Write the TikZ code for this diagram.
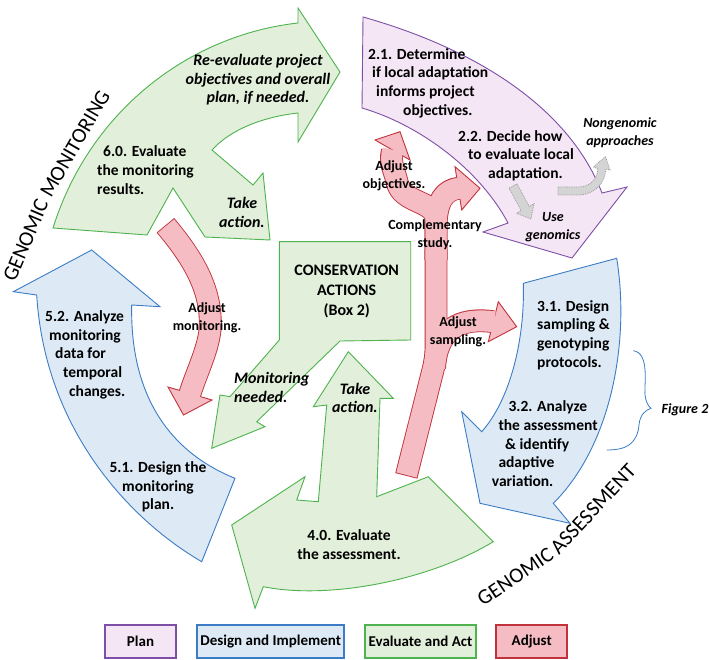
\documentclass[tikz,border=0pt]{standalone}
\usepackage{fontspec}
\setmainfont{Carlito}
\definecolor{purD}{HTML}{7E4FA6}
\definecolor{purL}{HTML}{F4E6F4}
\definecolor{bluD}{HTML}{3B7CC4}
\definecolor{bluL}{HTML}{DDEAF6}
\definecolor{grnD}{HTML}{4EB24E}
\definecolor{grnL}{HTML}{E2EFDA}
\definecolor{redD}{HTML}{C0323C}
\definecolor{redL}{HTML}{F5BDC3}
\definecolor{gryD}{HTML}{9A9A9A}
\definecolor{gryL}{HTML}{D4D4D4}
\begin{document}
\begin{tikzpicture}[x=1pt,y=-1pt,
  shp/.style={line width=0.9pt, line join=miter, miter limit=20},
  purS/.style={shp, draw=purD, fill=purL},
  bluS/.style={shp, draw=bluD, fill=bluL},
  grnS/.style={shp, draw=grnD, fill=grnL},
  redS/.style={shp, draw=redD, fill=redL},
  gryS/.style={line width=0.8pt, draw=gryD, fill=gryL, densely dotted},
  redO/.style={draw=redD, line width=22.8pt, line join=round},
  redF/.style={draw=redL, line width=21pt, line join=round},
  txt/.style={inner sep=0pt, font=\fontsize{15.5}{18.7}\selectfont\bfseries},
  itx/.style={inner sep=0pt, font=\fontsize{16}{18.5}\selectfont\bfseries\itshape},
  stx/.style={inner sep=0pt, font=\fontsize{14}{17.7}\selectfont\bfseries},
  sitx/.style={inner sep=0pt, font=\fontsize{14}{17.8}\selectfont\bfseries\itshape},
  ttl/.style={inner sep=0pt, anchor=base west, font=\fontsize{21.3}{22}\selectfont},
  leg/.style={line width=2pt, minimum height=33.3pt, inner sep=0pt, font=\fontsize{15}{18}\selectfont\bfseries}
]
\useasboundingbox (0,0) rectangle (709,660);

% purple 2.x
\path[purS] (363,17) -- (362,108) .. controls (420,125) and (480,170) .. (508,223) -- (483,232) -- (572,258) -- (627,187) -- (602,193) .. controls (570,110) and (480,50) .. (363,17) -- cycle;
% green 6.0
\path[grnS] (53,228) .. controls (90,110) and (190,35) .. (298,23) -- (298,8) -- (340,72) -- (298,142) -- (298,113) .. controls (262,117) and (230,130) .. (212,150) -- (253,185) -- (263,173) -- (270,240) -- (205,237) -- (173,188) -- (147,235) -- cycle;
% blue left 5.x
\path[bluS] (36.7,295) -- (13.3,291.7) -- (91.7,250) -- (160,306.7) -- (131.7,305) .. controls (130,390) and (165,450) .. (235,478.3) -- (201.7,561.7) .. controls (130,520) and (45,430) .. (36.7,295) -- cycle;
% conservation box + monitoring needed
\path[grnS] (279.3,241.7) -- (410.7,241.7) -- (410.7,340) -- (340,341) -- (256.7,421.7) -- (265,426.7) -- (211.7,448.3) -- (220,395) -- (230,396.7) -- (279.3,340) -- cycle;
% green 4.0
\path[grnS] (326.7,405) -- (313.3,406.7) -- (348.3,351.7) -- (393.3,398.3) -- (380,398.3) -- (376.7,496.7) -- (428.3,476.7) -- (493.3,541.7) .. controls (430,580) and (330,600) .. (263.3,586.7) -- (255,608.3) -- (231.7,525) -- (305,476.7) -- (296.7,500) -- (318.3,501.7) -- cycle;
% blue right 3.x
\path[bluS] (523.3,283.3) -- (616.7,258.3) .. controls (630,340) and (612,445) .. (553.3,503.3) -- (570,523.3) -- (480,503.3) -- (461.7,411.7) -- (481.7,431.7) .. controls (510,400) and (525,340) .. (523.3,283.3) -- cycle;
% gray arrows
\path[gryS] (516.95,183.84) -- (529.2,206.3) -- (534,203.7) -- (531,219) -- (516.5,213.3) -- (521.3,210.7) -- (509.05,188.2) -- cycle;
\path[gryS] (558,187) -- (578,187) .. controls (589,187) and (597.7,180) .. (597.7,168.5) -- (593.3,167) -- (605.5,156.5) -- (610,170) -- (605.7,169) .. controls (605.7,182) and (595,195) .. (578,195) -- (558,195) -- cycle;

% red adjust monitoring
\draw[redO, shorten <=-0.9pt] (166,226) .. controls (192,257) and (213,290) .. (210,330) .. controls (208,350) and (196,374) .. (190,393.5);
\path[redS] (168,387) -- (183.5,415) -- (212,400) -- cycle;
\draw[redF, shorten >=-1.2pt] (166,226) .. controls (192,257) and (213,290) .. (210,330) .. controls (208,350) and (196,374) .. (190,393.5);

% red fork
\draw[redO, shorten <=-0.9pt] (406.5,475) -- (433,370) .. controls (437,354) and (436,345) .. (436,330) -- (436,250);
\draw[redO] (436,260) -- (436,220) .. controls (436,200) and (402,204) .. (397,182) .. controls (395,172) and (389,162) .. (392.5,151);
\draw[redO] (436,260) -- (436,228) .. controls (436,200) and (445,190) .. (458.3,188.3);
\draw[redO] (434.5,368) .. controls (437,330) and (458,317) .. (493.3,321.7);
\path[redS] (375,140) -- (400,131.7) -- (410,160) -- cycle;
\path[redS] (455,166.7) -- (480,188.3) -- (461.7,210) -- cycle;
\path[redS] (498.3,301.7) -- (516.7,326.7) -- (488.3,341.7) -- cycle;
\draw[redF] (406.5,475) -- (433,370) .. controls (437,354) and (436,345) .. (436,330) -- (436,250);
\draw[redF, shorten >=-1.2pt] (436,260) -- (436,220) .. controls (436,200) and (402,204) .. (397,182) .. controls (395,172) and (389,162) .. (392.5,151);
\draw[redF, shorten >=-1.2pt] (436,260) -- (436,228) .. controls (436,200) and (445,190) .. (458.3,188.3);
\draw[redF, shorten >=-1.2pt] (434.5,368) .. controls (437,330) and (458,317) .. (493.3,321.7);

% brace
\draw[bluD, line width=0.8pt] (633.3,350.7) .. controls (650,353) and (644,385) .. (645,395) .. controls (646,402) and (648,406) .. (651,408.3) .. controls (646,410) and (640,414) .. (639,425) .. controls (637,445) and (625,450) .. (606.7,450);

% texts
\node[itx, align=center] (t1) at (258,80) {Re-evaluate project\\objectives and overall\\plan, if needed.};
\node[txt, align=left, anchor=west] (t2) at (97,170) {\hspace{6pt}6.0. Evaluate\\the monitoring\\results.};
\node[itx, align=center] (t3) at (242,212.5) {Take\\action.};
\node[txt, align=left, anchor=west] (t4) at (368,83) {2.1. Determine\\\hspace{4pt}if local adaptation\\\hspace{8pt}informs project\\\hspace{35pt}objectives.};
\node[txt, align=left, anchor=west] (t5) at (458,155.7) {2.2. Decide how\\\hspace{10pt}to evaluate local\\\hspace{30pt}adaptation.};
\node[sitx, align=center] (t6) at (620,133) {Nongenomic\\approaches};
\node[sitx, align=center] (t7) at (553,227) {Use\\genomics};
\node[txt, align=center, font=\fontsize{16}{20}\selectfont\bfseries] (t8) at (346.7,291.7) {CONSERVATION\\ACTIONS\\(Box 2)};
\node[itx, align=left, anchor=west] (t9) at (234,387.5) {Monitoring\\needed.};
\node[itx, align=center] (t10) at (355,398) {Take\\action.};
\node[txt, align=center] (t11) at (349,544.5) {4.0. Evaluate\\the assessment.};
\node[txt, align=left, anchor=west] (t12) at (45,354.7) {5.2. Analyze\\\hspace{4pt}monitoring\\\hspace{10pt}data for\\\hspace{18pt}temporal\\\hspace{24pt}changes.};
\node[txt, align=center] (t13) at (158,487) {5.1. Design the\\monitoring\\plan.};
\node[txt, align=left, anchor=west] (t14) at (537,335) {3.1. Design\\sampling \&\\genotyping\\protocols.};
\node[txt, align=left, anchor=west] (t15) at (491.7,443.7) {\hspace{16.6pt}3.2. Analyze\\\hspace{6.6pt}the assessment\\\hspace{13.3pt}\& identify\\\hspace{6.6pt}adaptive\\variation.};
\node[stx, align=center] (t16) at (207,318) {Adjust\\monitoring.};
\node[stx, align=center] (t17) at (394,176) {Adjust\\objectives.};
\node[stx, align=center] (t18) at (435,235) {Complementary\\study.};
\node[stx, align=center] (t19) at (458,332) {Adjust\\sampling.};
\node[sitx] (t20) at (685,410) {Figure 2};

% titles along the ring
\node[ttl, rotate=67] (gm1) at (15,283) {GENOMIC};
\node[ttl, rotate=60] (gm2) at (51,199) {MONITORING};
\node[ttl, rotate=34] (ga1) at (483,607) {GENOMIC};
\node[ttl, rotate=47] (ga2) at (559,556) {ASSESSMENT};

% legend
\node[leg, draw=purD, fill=purL, minimum width=71pt] (l1) at (140.5,641.7) {Plan};
\node[leg, draw=bluD, fill=bluL, minimum width=146.7pt] (l2) at (270.7,641.7) {Design and Implement};
\node[leg, draw=grnD, fill=grnL, minimum width=111pt] (l3) at (420.5,641.7) {Evaluate and Act};
\node[leg, draw=redD, fill=redL, minimum width=71.3pt] (l4) at (531.7,641.7) {Adjust};
\end{tikzpicture}
\end{document}
